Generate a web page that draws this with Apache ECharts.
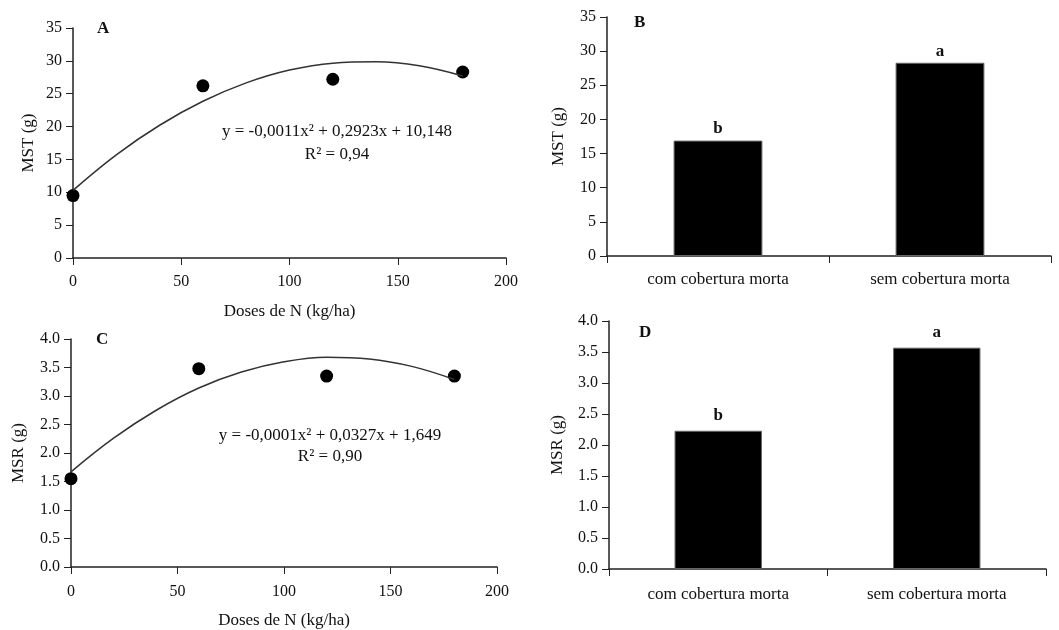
<!DOCTYPE html>
<html>
<head>
<meta charset="utf-8">
<script src="https://cdn.jsdelivr.net/npm/echarts@6/dist/echarts.min.js"></script>
<style>
html,body{margin:0;padding:0;background:#fff;}
#chart{width:1059px;height:630px;}
</style>
</head>
<body>
<div id="chart"></div>
<script>
// doses de N e valores observados
var doses = [0, 60, 120, 180];
var mstObs = [9.5, 26.2, 27.2, 28.3];
var msrObs = [1.55, 3.48, 3.35, 3.35];
// curvas ajustadas
var curvaX = [0, 20, 40, 60, 80, 100, 120, 140, 160, 180];
var mstCurva = [10.3, 15.7, 20.2, 23.85, 26.65, 28.6, 29.65, 29.85, 29.25, 27.7];
var msrCurva = [1.67, 2.26, 2.75, 3.14, 3.42, 3.60, 3.68, 3.65, 3.52, 3.29];
// barras
var cobertura = ['com cobertura morta', 'sem cobertura morta'];
var mstBarra = [16.9, 28.3];
var msrBarra = [2.23, 3.57];
var letrasMST = ['b', 'a'];
var letrasMSR = ['b', 'a'];

var fonte = 'Liberation Serif';
var cor = '#111';

function pares(xs, ys){
	var out = [];
	for(var i=0;i<xs.length;i++){ out.push([xs[i], ys[i]]); }
	return out;
}

function eixoValor(grid, min, max, intervalo, nome, gap, margem, dec){
	return {
		type: 'value', gridIndex: grid, min: min, max: max, interval: intervalo,
		name: nome, nameLocation: 'middle', nameGap: gap,
		nameTextStyle: {fontFamily: fonte, fontSize: 17, color: cor},
		axisLine: {show: true, lineStyle: {color: '#222', width: 1.5}},
		axisTick: {show: true, length: 7, lineStyle: {color: '#222'}},
		axisLabel: {fontFamily: fonte, fontSize: 16, color: cor, margin: margem,
			formatter: function(v){ return dec ? v.toFixed(1) : v; }},
		splitLine: {show: false}
	};
}

function eixoCat(grid, margem){
	return {
		type: 'category', gridIndex: grid, data: cobertura,
		axisLine: {show: true, lineStyle: {color: '#222', width: 1.5}},
		axisTick: {show: true, length: 7, lineStyle: {color: '#222'}},
		axisLabel: {fontFamily: fonte, fontSize: 17, color: cor, margin: margem}
	};
}

var chart = echarts.init(document.getElementById('chart'));
var option = {
	backgroundColor: '#fff',
	animation: false,
	grid: [
		{left: 73, right: 553, top: 28, bottom: 372},
		{left: 607, right: 8, top: 17, bottom: 374},
		{left: 71, right: 562, top: 339, bottom: 62},
		{left: 609, right: 13, top: 321, bottom: 61}
	],
	xAxis: [
		eixoValor(0, 0, 200, 50, 'Doses de N (kg/ha)', 45, 16, false),
		eixoCat(1, 15),
		eixoValor(2, 0, 200, 50, 'Doses de N (kg/ha)', 45, 17, false),
		eixoCat(3, 17)
	],
	yAxis: [
		eixoValor(0, 0, 35, 5, 'MST (g)', 36, 11, false),
		eixoValor(1, 0, 35, 5, 'MST (g)', 40, 11, false),
		eixoValor(2, 0, 4, 0.5, 'MSR (g)', 44, 11, true),
		eixoValor(3, 0, 4, 0.5, 'MSR (g)', 43, 11, true)
	],
	series: [
		{type: 'line', xAxisIndex: 0, yAxisIndex: 0, data: pares(curvaX, mstCurva),
			smooth: 0.4, showSymbol: false, lineStyle: {color: '#333', width: 1.5}},
		{type: 'scatter', xAxisIndex: 0, yAxisIndex: 0, data: pares(doses, mstObs),
			symbolSize: 13, clip: false, itemStyle: {color: '#000', opacity: 1}},
		{type: 'line', xAxisIndex: 2, yAxisIndex: 2, data: pares(curvaX, msrCurva),
			smooth: 0.4, showSymbol: false, lineStyle: {color: '#333', width: 1.5}},
		{type: 'scatter', xAxisIndex: 2, yAxisIndex: 2, data: pares(doses, msrObs),
			symbolSize: 13, clip: false, itemStyle: {color: '#000', opacity: 1}},
		{type: 'bar', xAxisIndex: 1, yAxisIndex: 1, data: mstBarra, barWidth: '40%',
			itemStyle: {color: '#000', borderColor: '#666', borderWidth: 1},
			label: {show: true, position: 'top', distance: 3, fontFamily: fonte, fontSize: 17,
				fontWeight: 'bold', color: cor, formatter: function(p){ return letrasMST[p.dataIndex]; }}},
		{type: 'bar', xAxisIndex: 3, yAxisIndex: 3, data: msrBarra, barWidth: '40%',
			itemStyle: {color: '#000', borderColor: '#666', borderWidth: 1},
			label: {show: true, position: 'top', distance: 7, fontFamily: fonte, fontSize: 17,
				fontWeight: 'bold', color: cor, formatter: function(p){ return letrasMSR[p.dataIndex]; }}}
	],
	graphic: [
		{type: 'text', left: 97, top: 20, style: {text: 'A', font: 'bold 17px ' + fonte, fill: cor}},
		{type: 'text', left: 634, top: 14, style: {text: 'B', font: 'bold 17px ' + fonte, fill: cor}},
		{type: 'text', left: 96, top: 331, style: {text: 'C', font: 'bold 17px ' + fonte, fill: cor}},
		{type: 'text', left: 639, top: 324, style: {text: 'D', font: 'bold 17px ' + fonte, fill: cor}},
		{type: 'text', x: 337, y: 132, style: {text: 'y = -0,0011x² + 0,2923x + 10,148', font: '17px ' + fonte,
			fill: cor, align: 'center', verticalAlign: 'middle'}},
		{type: 'text', x: 337, y: 155, style: {text: 'R² = 0,94', font: '17px ' + fonte,
			fill: cor, align: 'center', verticalAlign: 'middle'}},
		{type: 'text', x: 330, y: 436, style: {text: 'y = -0,0001x² + 0,0327x + 1,649', font: '17px ' + fonte,
			fill: cor, align: 'center', verticalAlign: 'middle'}},
		{type: 'text', x: 330, y: 457, style: {text: 'R² = 0,90', font: '17px ' + fonte,
			fill: cor, align: 'center', verticalAlign: 'middle'}}
	]
};
chart.setOption(option);
</script>
</body>
</html>
